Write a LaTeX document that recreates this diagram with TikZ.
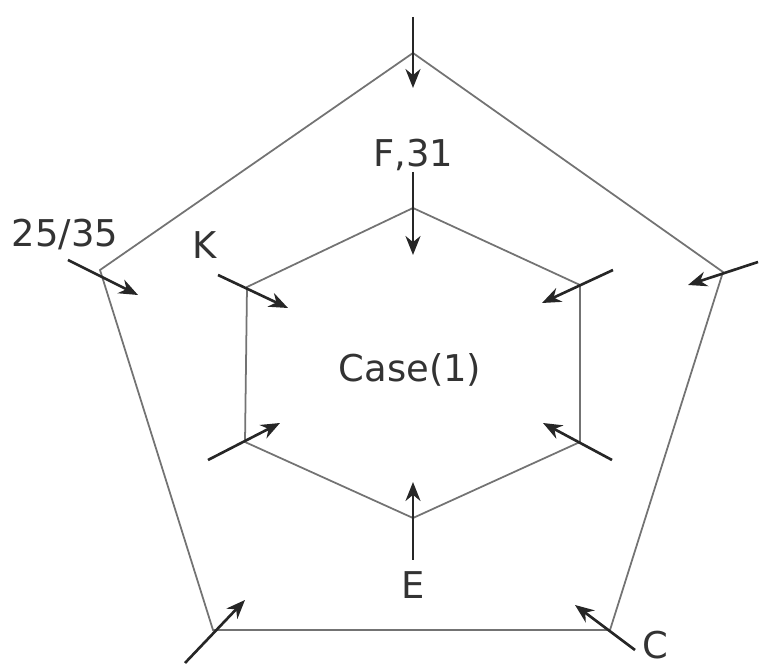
\documentclass[tikz,border=0pt]{standalone}
\usepackage{fontspec}
\setmainfont{DejaVu Sans}
\usepackage{tikz}
\usetikzlibrary{positioning, arrows.meta}

\begin{document}
\begin{tikzpicture}[
    edge/.style={draw=black!55, line width=1pt},
    arrow/.style={draw=black!85, line width=1.5pt, -{Stealth[length=3.8mm, width=3mm]}},
    label/.style={font=\fontsize{21}{25}\selectfont, text=black!80, inner sep=0pt}
]
\useasboundingbox (0,0) rectangle (15.18,-13.32);

% outer pentagon
\coordinate (otop) at (8.26,-1.06);
\coordinate (oleft) at (2.0,-5.4);
\coordinate (oright) at (14.46,-5.44);
\coordinate (obl) at (4.26,-12.6);
\coordinate (obr) at (12.2,-12.6);
\draw[edge] (otop) -- (oright) -- (obr) -- (obl) -- (oleft) -- cycle;

% inner hexagon
\coordinate (itop) at (8.26,-4.16);
\coordinate (iur) at (11.6,-5.70);
\coordinate (ilr) at (11.6,-8.84);
\coordinate (ibot) at (8.26,-10.36);
\coordinate (ill) at (4.9,-8.84);
\coordinate (iul) at (4.94,-5.74);
\draw[edge] (itop) -- (iur) -- (ilr) -- (ibot) -- (ill) -- (iul) -- cycle;

% labels
\node[label] (case) at (8.2,-7.4) {Case(1)};
\node[label] (f31) at (8.26,-3.1) {F,31};
\node[label] (k) at (4.1,-4.9) {K};
\node[label] (lft) at (1.3,-4.7) {25/35};
\node[label] (e) at (8.26,-11.7) {E};
\node[label] (c) at (13.1,-12.9) {C};

% arrow ends
\coordinate (a1s) at (8.26,-0.34);   \coordinate (a1e) at (8.26,-1.76);
\coordinate (a2s) at (8.26,-3.44);   \coordinate (a2e) at (8.26,-5.1);
\coordinate (a3s) at (1.36,-5.2);    \coordinate (a3e) at (2.76,-5.9);
\coordinate (a4s) at (4.36,-5.5);    \coordinate (a4e) at (5.76,-6.16);
\coordinate (a5s) at (12.26,-5.4);   \coordinate (a5e) at (10.84,-6.06);
\coordinate (a6s) at (15.16,-5.24);  \coordinate (a6e) at (13.76,-5.7);
\coordinate (a7s) at (4.16,-9.2);    \coordinate (a7e) at (5.6,-8.46);
\coordinate (a8s) at (12.24,-9.2);   \coordinate (a8e) at (10.86,-8.46);
\coordinate (a9s) at (8.26,-11.2);   \coordinate (a9e) at (8.26,-9.64);
\coordinate (a10s) at (3.7,-13.26);  \coordinate (a10e) at (4.9,-12.0);
\coordinate (a11s) at (12.7,-13.0);  \coordinate (a11e) at (11.5,-12.1);

\foreach \i in {1,...,11}
    \draw[arrow] (a\i s) -- (a\i e);
\end{tikzpicture}
\end{document}
